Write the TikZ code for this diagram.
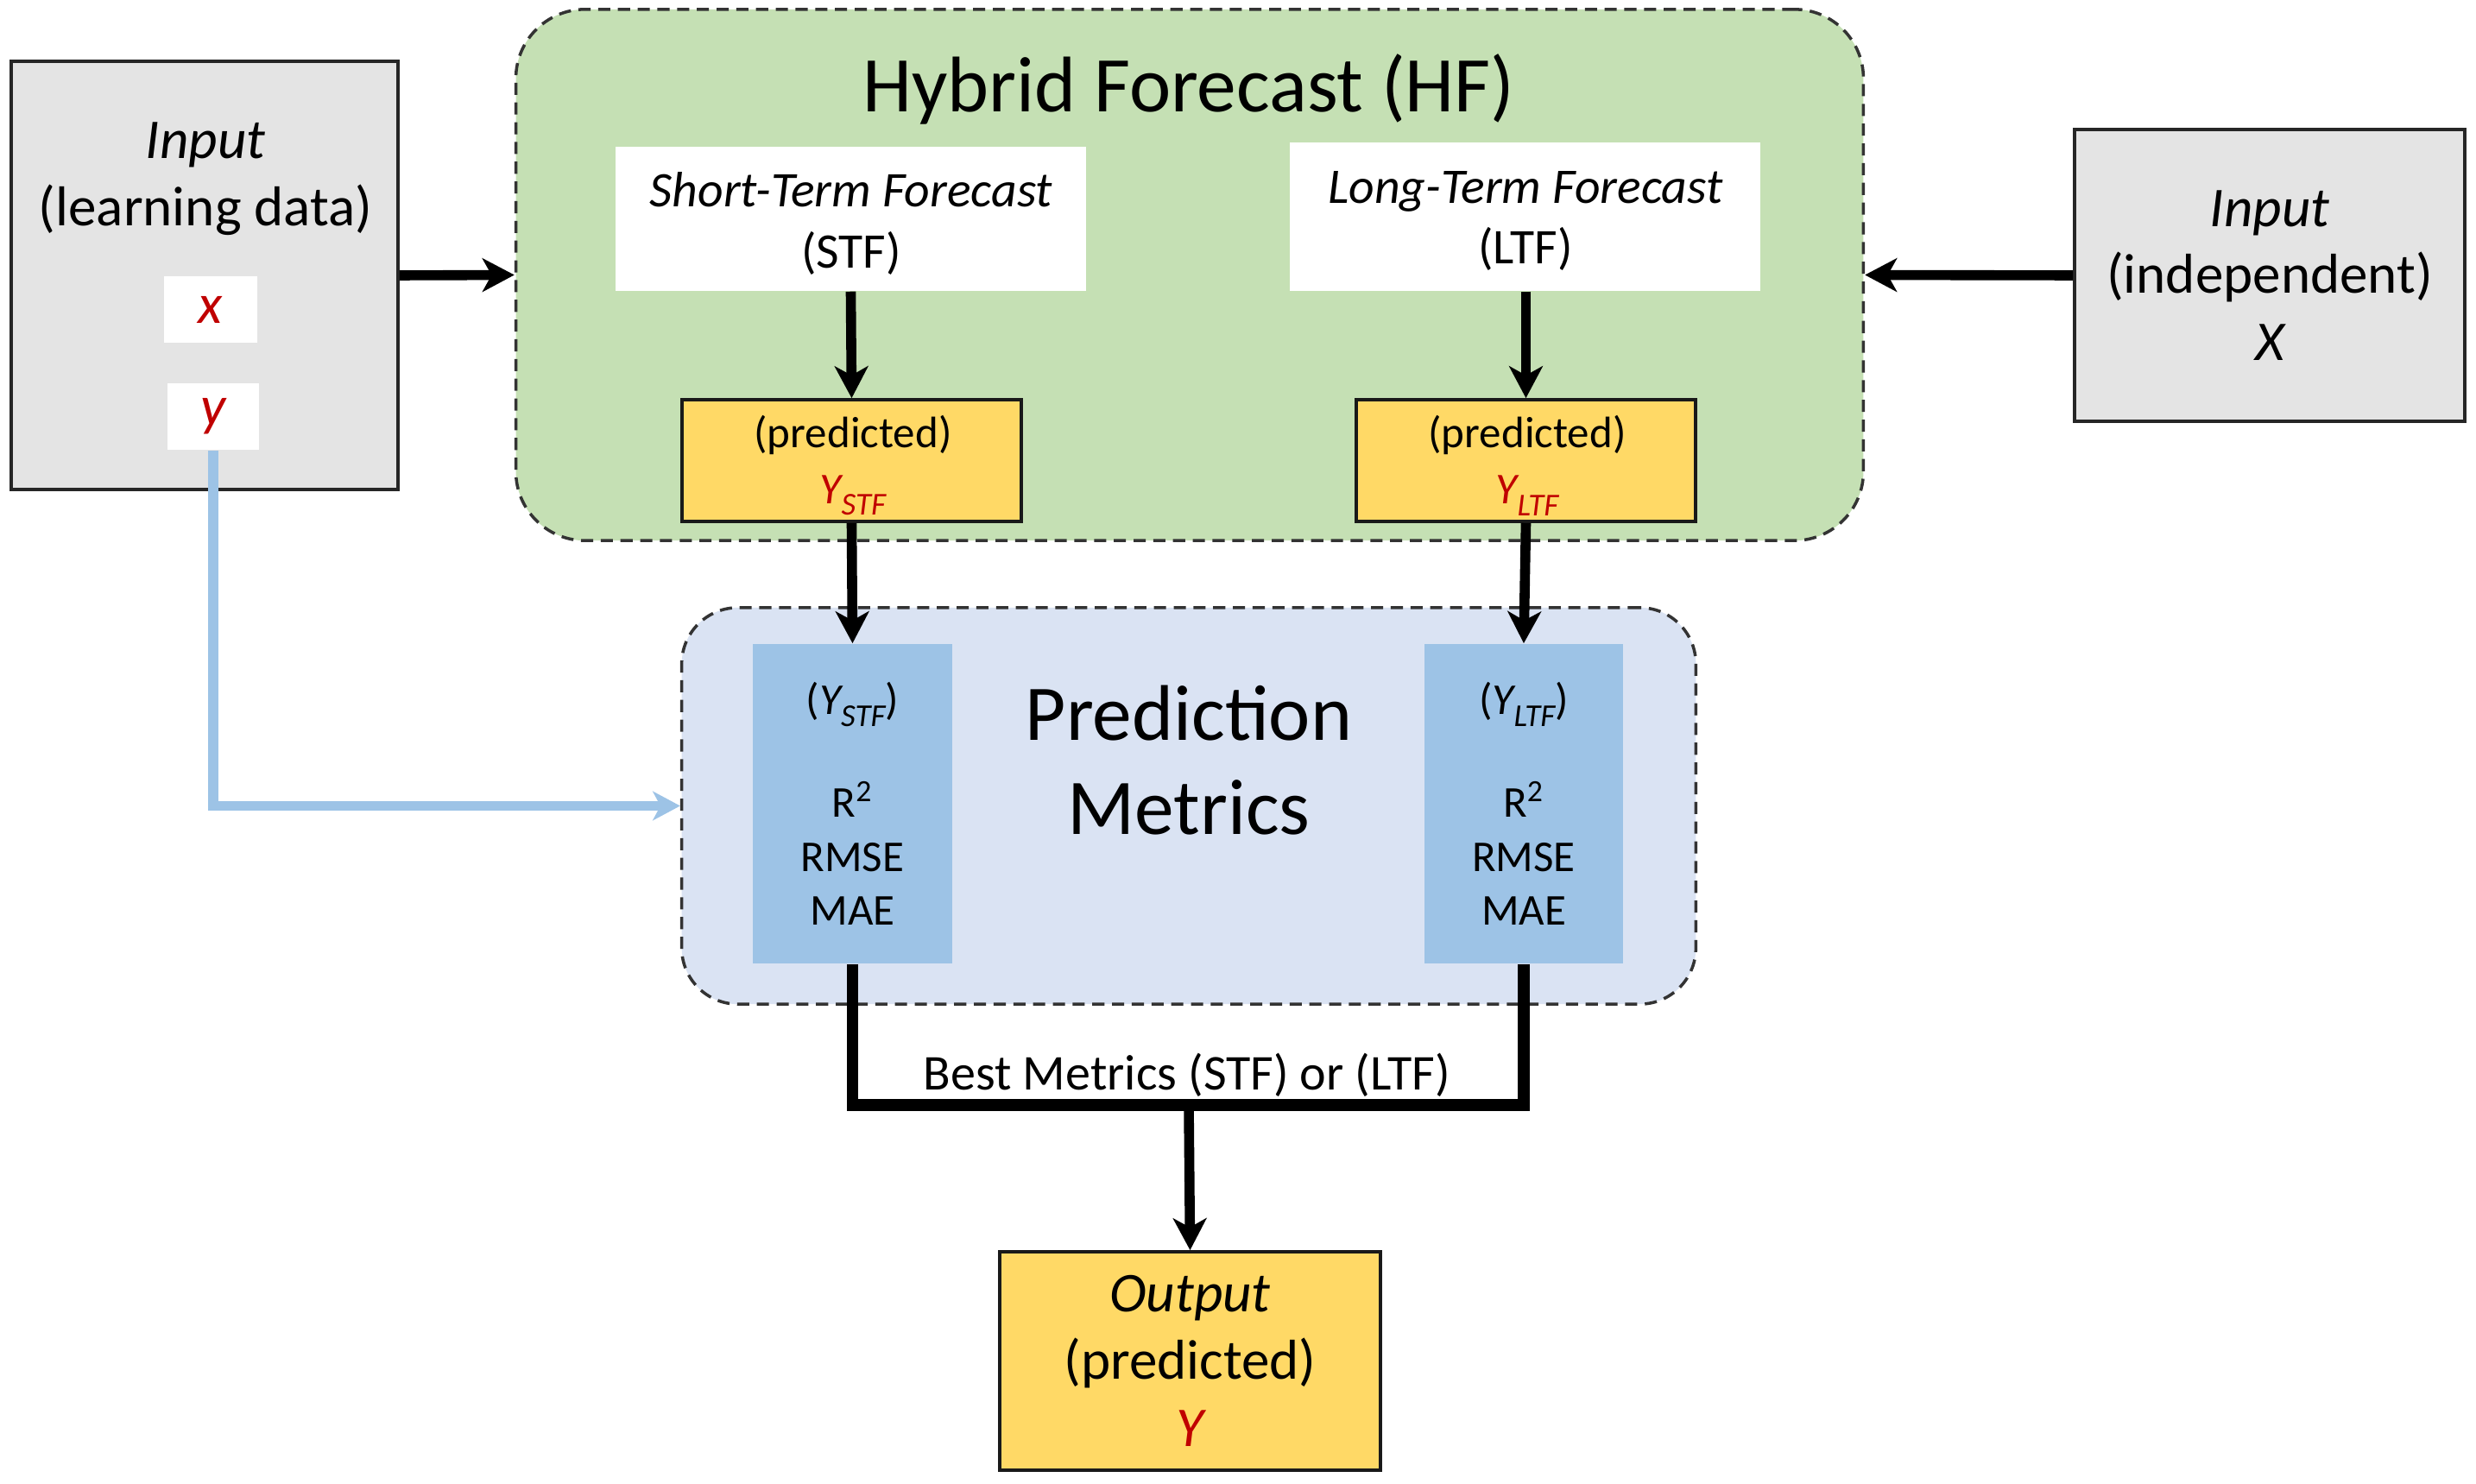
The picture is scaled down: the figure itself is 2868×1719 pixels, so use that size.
\documentclass[tikz,border=0pt]{standalone}
\usepackage{fontspec}
\setmainfont{Carlito}
\usetikzlibrary{arrows.meta}
\definecolor{gbox}{HTML}{E4E4E4}
\definecolor{hfgreen}{HTML}{C5E0B4}
\definecolor{ybox}{HTML}{FFD966}
\definecolor{pmblue}{HTML}{DAE3F3}
\definecolor{mblue}{HTML}{9DC3E6}
\definecolor{myred}{HTML}{C00000}
\newcommand{\fsz}[2]{\fontsize{#1}{#2}\selectfont}
\newcommand{\lsub}[1]{\raisebox{-0.55ex}{\fontsize{10.5}{10.5}\selectfont #1}}
\tikzset{
  greybox/.style={draw=black!85, line width=1pt, fill=gbox, inner sep=0pt},
  whitebox/.style={draw=none, fill=white, inner sep=0pt},
  yelbox/.style={draw=black!90, line width=1pt, fill=ybox, inner sep=0pt},
  metbox/.style={draw=none, fill=mblue, inner sep=0pt},
  dashedgroup/.style={draw=black!80, line width=1pt, dash pattern=on 4pt off 2.5pt, inner sep=0pt},
  bigarrow/.style={line width=3.3pt, -{Stealth[length=10.5pt,width=11pt,inset=3pt]}},
  joinline/.style={line width=3.9pt, line join=miter},
  bluearrow/.style={draw=mblue, line width=3.2pt, -{Stealth[length=9pt,width=9.5pt,inset=2.5pt]}},
  txt/.style={inner sep=0pt, align=center}
}
\begin{document}
\begin{tikzpicture}[x=0.01cm, y=-0.01cm]
\useasboundingbox (0,0) rectangle (2868,1719);

% groups
\node[dashedgroup, fill=hfgreen, rounded corners=0.8cm, minimum width=15.6cm, minimum height=6.15cm] (hf) at (1378,318.5) {};
\node[dashedgroup, fill=pmblue, rounded corners=0.65cm, minimum width=11.74cm, minimum height=4.59cm] (pm) at (1377,933.5) {};

% titles
\node[txt, font=\fsz{26}{31}] (hft) at (1377,103) {Hybrid Forecast (HF)};
\node[txt, font=\fsz{26}{31}] (pmt) at (1377,881) {Prediction\\Metrics};

% left input
\node[greybox, minimum width=4.48cm, minimum height=4.96cm] (inL) at (237,319) {};
\node[txt, font=\fsz{18.5}{22.2}] (inLt) at (238,207) {\itshape Input\\(learning data)};
\node[whitebox, minimum width=1.08cm, minimum height=0.77cm, font=\fsz{18.5}{22}\itshape, text=myred] (xb) at (244,358.5) {x};
\node[whitebox, minimum width=1.06cm, minimum height=0.77cm, font=\fsz{18.5}{22}\itshape, text=myred] (yb) at (247,482.5) {y};

% right input
\node[greybox, minimum width=4.52cm, minimum height=3.38cm, align=center, font=\fsz{18.5}{22}] (inR) at (2629,319) {\itshape Input\\(independent)\\\itshape X};

% forecasts
\node[whitebox, minimum width=5.45cm, minimum height=1.67cm] (stf) at (985.5,253.5) {};
\node[txt, font=\fsz{16.4}{20}] (stft) at (986,259) {\itshape Short-Term Forecast\\(STF)};
\node[whitebox, minimum width=5.45cm, minimum height=1.72cm] (ltf) at (1766.5,251) {};
\node[txt, font=\fsz{16.4}{20}] (ltft) at (1767,256) {\itshape Long-Term Forecast\\(LTF)};

% predicted
\node[yelbox, minimum width=3.93cm, minimum height=1.41cm] (ystf) at (986.5,533.5) {};
\node[txt, font=\fsz{14.5}{18.6}] (ystft) at (988,539) {(predicted)\\\color{myred}\itshape Y\lsub{STF}};
\node[yelbox, minimum width=3.93cm, minimum height=1.41cm] (yltf) at (1767.5,533.5) {};
\node[txt, font=\fsz{14.5}{18.6}] (yltft) at (1769,539) {(predicted)\\\color{myred}\itshape Y\lsub{LTF}};

% metrics
\node[metbox, minimum width=2.31cm, minimum height=3.70cm, align=center, font=\fsz{14.5}{17.8}] (mstf) at (987.5,931) {({\itshape Y\lsub{STF}})\\[16pt]R\textsuperscript{2}\\RMSE\\MAE};
\node[metbox, minimum width=2.30cm, minimum height=3.70cm, align=center, font=\fsz{14.5}{17.8}] (mltf) at (1765,931) {({\itshape Y\lsub{LTF}})\\[16pt]R\textsuperscript{2}\\RMSE\\MAE};

% output
\node[yelbox, minimum width=4.41cm, minimum height=2.53cm, align=center, font=\fsz{18.5}{22.2}] (out) at (1378.5,1576.5) {\itshape Output\\(predicted)\\\color{myred}\itshape Y};

% best metrics label
\node[txt, font=\fsz{16.5}{20}] (best) at (1375,1245) {Best Metrics (STF) or (LTF)};

% connectors
\draw[bigarrow] (inL.east) -- (hf.west);
\draw[bigarrow] (inR.west) -- (hf.east);
\draw[bigarrow] (stf.south) -- (ystf.north);
\draw[bigarrow] (ltf.south -| yltf.north) -- (yltf.north);
\draw[bigarrow] (ystf.south) -- (mstf.north);
\draw[bigarrow] (yltf.south) -- (mltf.north);
\coordinate (j) at (1377,1280);
\draw[joinline] (mstf.south) -- (mstf.south |- j) -- (mltf.south |- j) -- (mltf.south);
\draw[bigarrow] (j) -- (out.north);
\draw[bluearrow] (yb.south) |- (pm.west);
\end{tikzpicture}
\end{document}
